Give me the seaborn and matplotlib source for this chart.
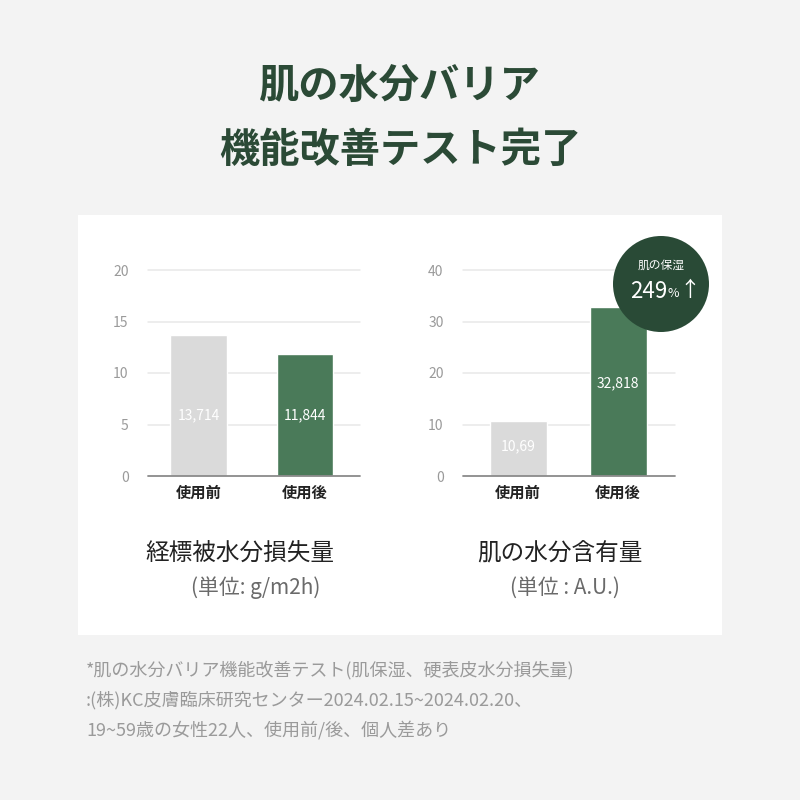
import matplotlib
matplotlib.use("Agg")
import matplotlib.pyplot as plt
from matplotlib.patches import Rectangle, Circle
import seaborn as sns
import pandas as pd

sns.set_theme(style="white")
plt.rcParams['font.family'] = ['Noto Sans CJK JP', 'DejaVu Sans']

# ---- data ----
categories = ["使用前", "使用後"]
tewl_values = [13.714, 11.844]
tewl_labels = ["13,714", "11,844"]
moist_values = [10.69, 32.818]
moist_labels = ["10,69", "32,818"]
tewl_ticks = [0, 5, 10, 15, 20]
moist_ticks = [0, 10, 20, 30, 40]
title_lines = ["肌の水分バリア", "機能改善テスト完了"]
left_title = "経標被水分損失量"
left_unit = "(単位: g/m2h)"
right_title = "肌の水分含有量"
right_unit = "(単位 : A.U.)"
badge_top = "肌の保湿"
badge_value = "249"
footnote = ["*肌の水分バリア機能改善テスト(肌保湿、硬表皮水分損失量)",
            ":(株)KC皮膚臨床研究センター2024.02.15~2024.02.20、",
            "19~59歳の女性22人、使用前/後、個人差あり"]

BG = "#f3f3f3"
GREEN = "#4a7a59"
DARK = "#2b4a36"
GRAY_BAR = "#dadada"
palette = {categories[0]: GRAY_BAR, categories[1]: GREEN}

fig = plt.figure(figsize=(8, 8), dpi=100)
fig.patch.set_facecolor(BG)

def fx(px):
    return px / 800.0

def fy(py):
    return 1 - py / 800.0

# white panel
fig.add_artist(Rectangle((fx(78), fy(635)), fx(722) - fx(78), fy(215) - fy(635),
                         transform=fig.transFigure, facecolor="white", edgecolor="none", zorder=-1))

# titles
fig.text(0.5, fy(86), title_lines[0], ha="center", va="center", fontsize=29,
         fontweight="bold", color=DARK)
fig.text(0.5, fy(150), title_lines[1], ha="center", va="center", fontsize=29,
         fontweight="bold", color=DARK)


def draw_panel(rect, values, labels, ticks, xlim, width, label_frac):
    ax = fig.add_axes(rect)
    ax.set_facecolor("none")
    df = pd.DataFrame({"cat": categories, "val": values})
    sns.barplot(data=df, x="cat", y="val", hue="cat", palette=palette, dodge=False,
                legend=False, width=width, ax=ax, zorder=3, saturation=1)
    ax.set_ylim(ticks[0], ticks[-1])
    ax.set_xlim(*xlim)
    ax.set_yticks(ticks)
    for t in ticks[1:]:
        ax.axhline(t, color="#e8e8e8", lw=1.1, zorder=1, clip_on=False)
    ax.axhline(0, color="#8a8a8a", lw=1.3, zorder=4, clip_on=False)
    for s in ax.spines.values():
        s.set_visible(False)
    ax.tick_params(axis="y", length=0, pad=14, labelsize=10, labelcolor="#9a9a9a")
    ax.tick_params(axis="x", length=0, pad=6, labelsize=11, labelcolor="#222222")
    for lab in ax.get_xticklabels():
        lab.set_fontweight("bold")
    ax.set_xlabel("")
    ax.set_ylabel("")
    for i, (v, lab) in enumerate(zip(values, labels)):
        ax.text(i, v * label_frac[i], lab, ha="center", va="center", color="white",
                fontsize=10, zorder=5)
    return ax

axL = draw_panel([fx(148), fy(476), fx(360) - fx(148), fy(270) - fy(476)],
                 tewl_values, tewl_labels, tewl_ticks, (-0.474, 1.516), 0.53, [0.43, 0.5])
axR = draw_panel([fx(463), fy(476), fx(675) - fx(463), fy(270) - fy(476)],
                 moist_values, moist_labels, moist_ticks, (-0.55, 1.57), 0.57, [0.54, 0.55])

# subtitles
fig.text(fx(240), fy(554), left_title, ha="center", va="center", fontsize=17, color="#222222")
fig.text(fx(256), fy(588), left_unit, ha="center", va="center", fontsize=15, color="#6a6a6a")
fig.text(fx(560), fy(554), right_title, ha="center", va="center", fontsize=17, color="#222222")
fig.text(fx(565), fy(588), right_unit, ha="center", va="center", fontsize=15, color="#6a6a6a")

# badge
fig.add_artist(Circle((fx(661), fy(284)), fx(48), transform=fig.transFigure,
                      facecolor="#294a36", edgecolor="none", zorder=10))
fig.text(fx(661), fy(265), badge_top, ha="center", va="center", fontsize=8.5,
         color="white", zorder=11)
fig.text(fx(667), fy(291), badge_value, ha="right", va="center", fontsize=16,
         color="white", zorder=11)
fig.text(fx(667), fy(294), "%", ha="left", va="center", fontsize=9,
         color="white", zorder=11)
fig.text(fx(679), fy(290), "↑", ha="left", va="center", fontsize=15,
         color="white", zorder=11)

# footnote
for i, line in enumerate(footnote):
    fig.text(fx(86), fy(670 + 30 * i), line, ha="left", va="center", fontsize=13,
             color="#9a9a9a")

fig.savefig("out.png", dpi=100, facecolor=BG)
